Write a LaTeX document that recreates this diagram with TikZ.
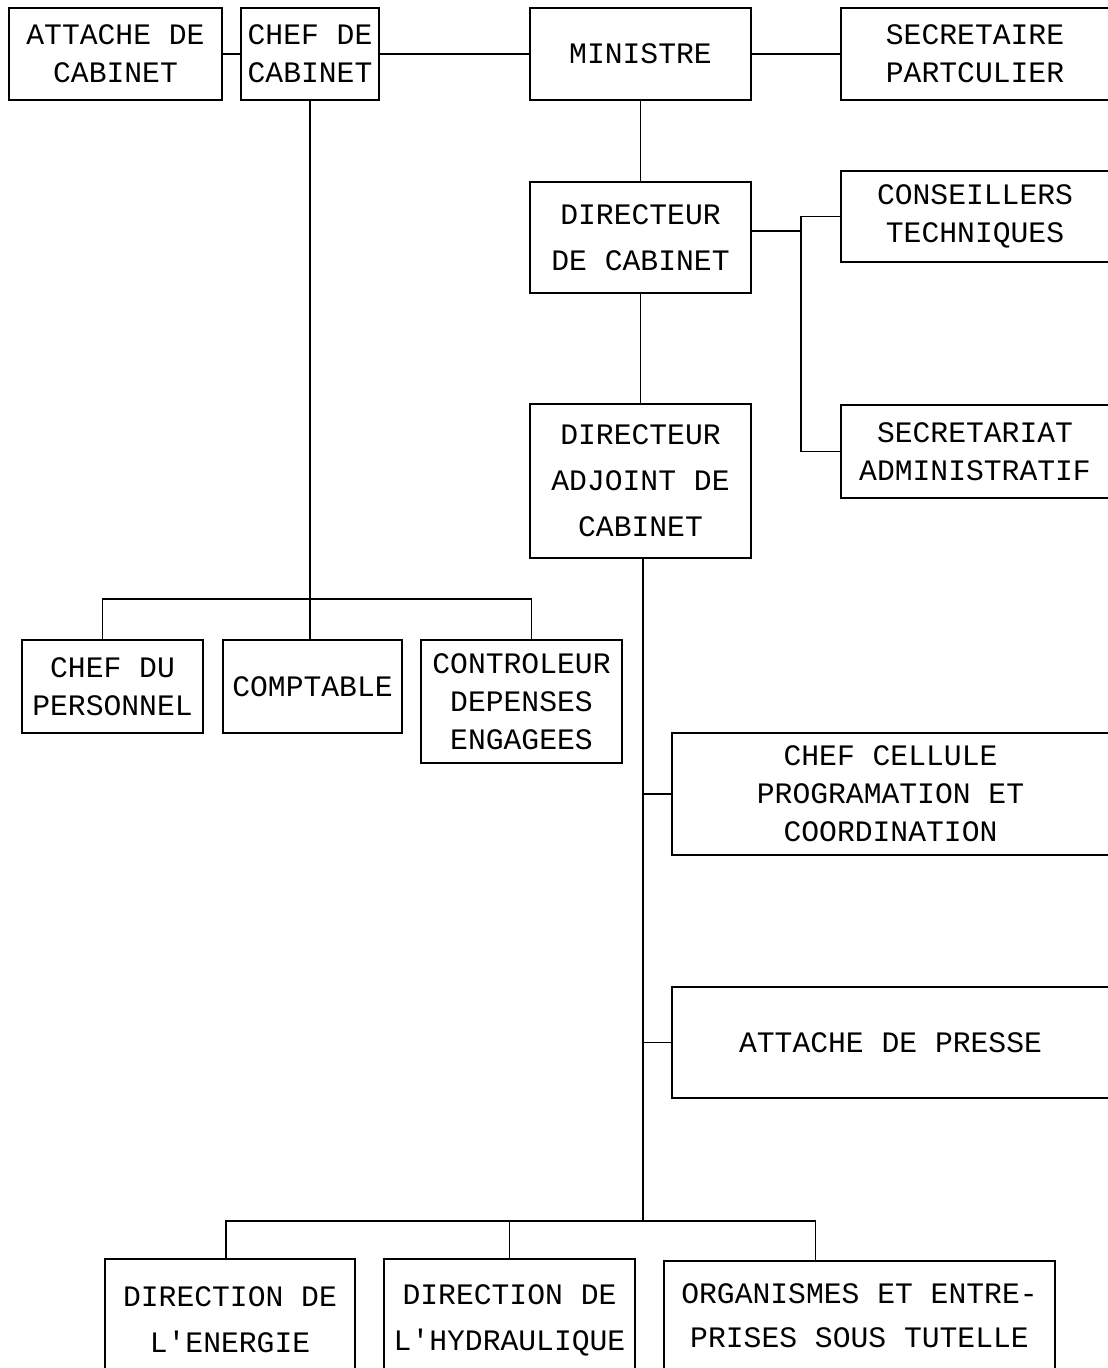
\documentclass[tikz,border=0pt]{standalone}
\usepackage{fontspec}
\newfontfamily\orgfont{Liberation Mono}
\tikzset{
  unit/.style={draw, line width=1.1pt, inner sep=0pt, align=center,
    font=\orgfont\fontsize{16.9}{21.6}\selectfont},
  wh/.style 2 args={minimum width=#1*0.02cm, minimum height=#2*0.02cm},
  link/.style={line width=1.1pt}
}
\begin{document}
\begin{tikzpicture}[x=0.02cm, y=-0.02cm]
\useasboundingbox (0,0) rectangle (1107,1368);
\node[unit, wh={213}{92}] (attache) at (115.5,54) {ATTACHE DE\\CABINET};
\node[unit, wh={138}{92}] (chefcab) at (310,54) {CHEF DE\\CABINET};
\node[unit, wh={221}{92}] (ministre) at (640.5,54) {MINISTRE};
\node[unit, wh={268}{92}] (secpart) at (975,54) {SECRETAIRE\\PARTCULIER};
\node[unit, wh={221}{111}] (dircab) at (640.5,237.5) {DIRECTEUR\\[4.6pt]DE CABINET};
\node[unit, wh={268}{91}] (conseil) at (975,216.5) {CONSEILLERS\\TECHNIQUES};
\node[unit, wh={268}{93}] (secadm) at (975,451.5) {SECRETARIAT\\ADMINISTRATIF};
\node[unit, wh={221}{154}] (adjoint) at (640.5,481) {DIRECTEUR\\[4.6pt]ADJOINT DE\\[4.6pt]CABINET};
\node[unit, wh={181}{93}] (chefpers) at (112.5,686.5) {CHEF DU\\PERSONNEL};
\node[unit, wh={179}{93}] (comptable) at (312.5,686.5) {COMPTABLE};
\node[unit, wh={201}{123}] (controleur) at (521.5,701.5) {CONTROLEUR\\DEPENSES\\ENGAGEES};
\node[unit, wh={437}{122}] (cellule) at (890.5,794) {CHEF CELLULE\\PROGRAMATION ET\\COORDINATION};
\node[unit, wh={437}{111}] (presse) at (890.5,1042.5) {ATTACHE DE PRESSE};
\node[unit, wh={250}{122}] (direnergie) at (230,1320) {DIRECTION DE\\[4.6pt]L\textquotesingle ENERGIE};
\node[unit, wh={251}{122}] (dirhydro) at (509.5,1320) {DIRECTION DE\\[4.6pt]L\textquotesingle HYDRAULIQUE};
\node[unit, wh={391}{110}] (organismes) at (859.5,1316) {ORGANISMES ET ENTRE-\\[3.5pt]PRISES SOUS TUTELLE};
\coordinate (jct) at (801,231);
\coordinate (cbar) at (310,599);
\coordinate (dbar) at (643,1221);
\draw[link] (attache) -- (chefcab);
\draw[link] (chefcab) -- (ministre);
\draw[link] (ministre) -- (secpart);
\draw[link] (ministre) -- (dircab);
\draw[link] (dircab) -- (adjoint);
\draw[link] (jct -| dircab.east) -- (jct);
\draw[link] (conseil.west) -| (jct) |- (secadm.west);
\draw[link] (chefcab.south) -- (cbar);
\draw[link] ([xshift=-0.2cm]chefpers.north) |- (cbar) -| ([xshift=0.2cm]controleur.north);
\draw[link] (cbar) -- (comptable.north -| cbar);
\draw[link] (adjoint.south -| dbar) -- (dbar);
\draw[link] (cellule.west -| dbar) -- (cellule.west);
\draw[link] (presse.west -| dbar) -- (presse.west);
\draw[link] ([xshift=-0.08cm]direnergie.north) |- (dbar) -| ([xshift=-0.88cm]organismes.north);
\draw[link] (dbar -| dirhydro.north) -- (dirhydro.north);
\end{tikzpicture}
\end{document}
